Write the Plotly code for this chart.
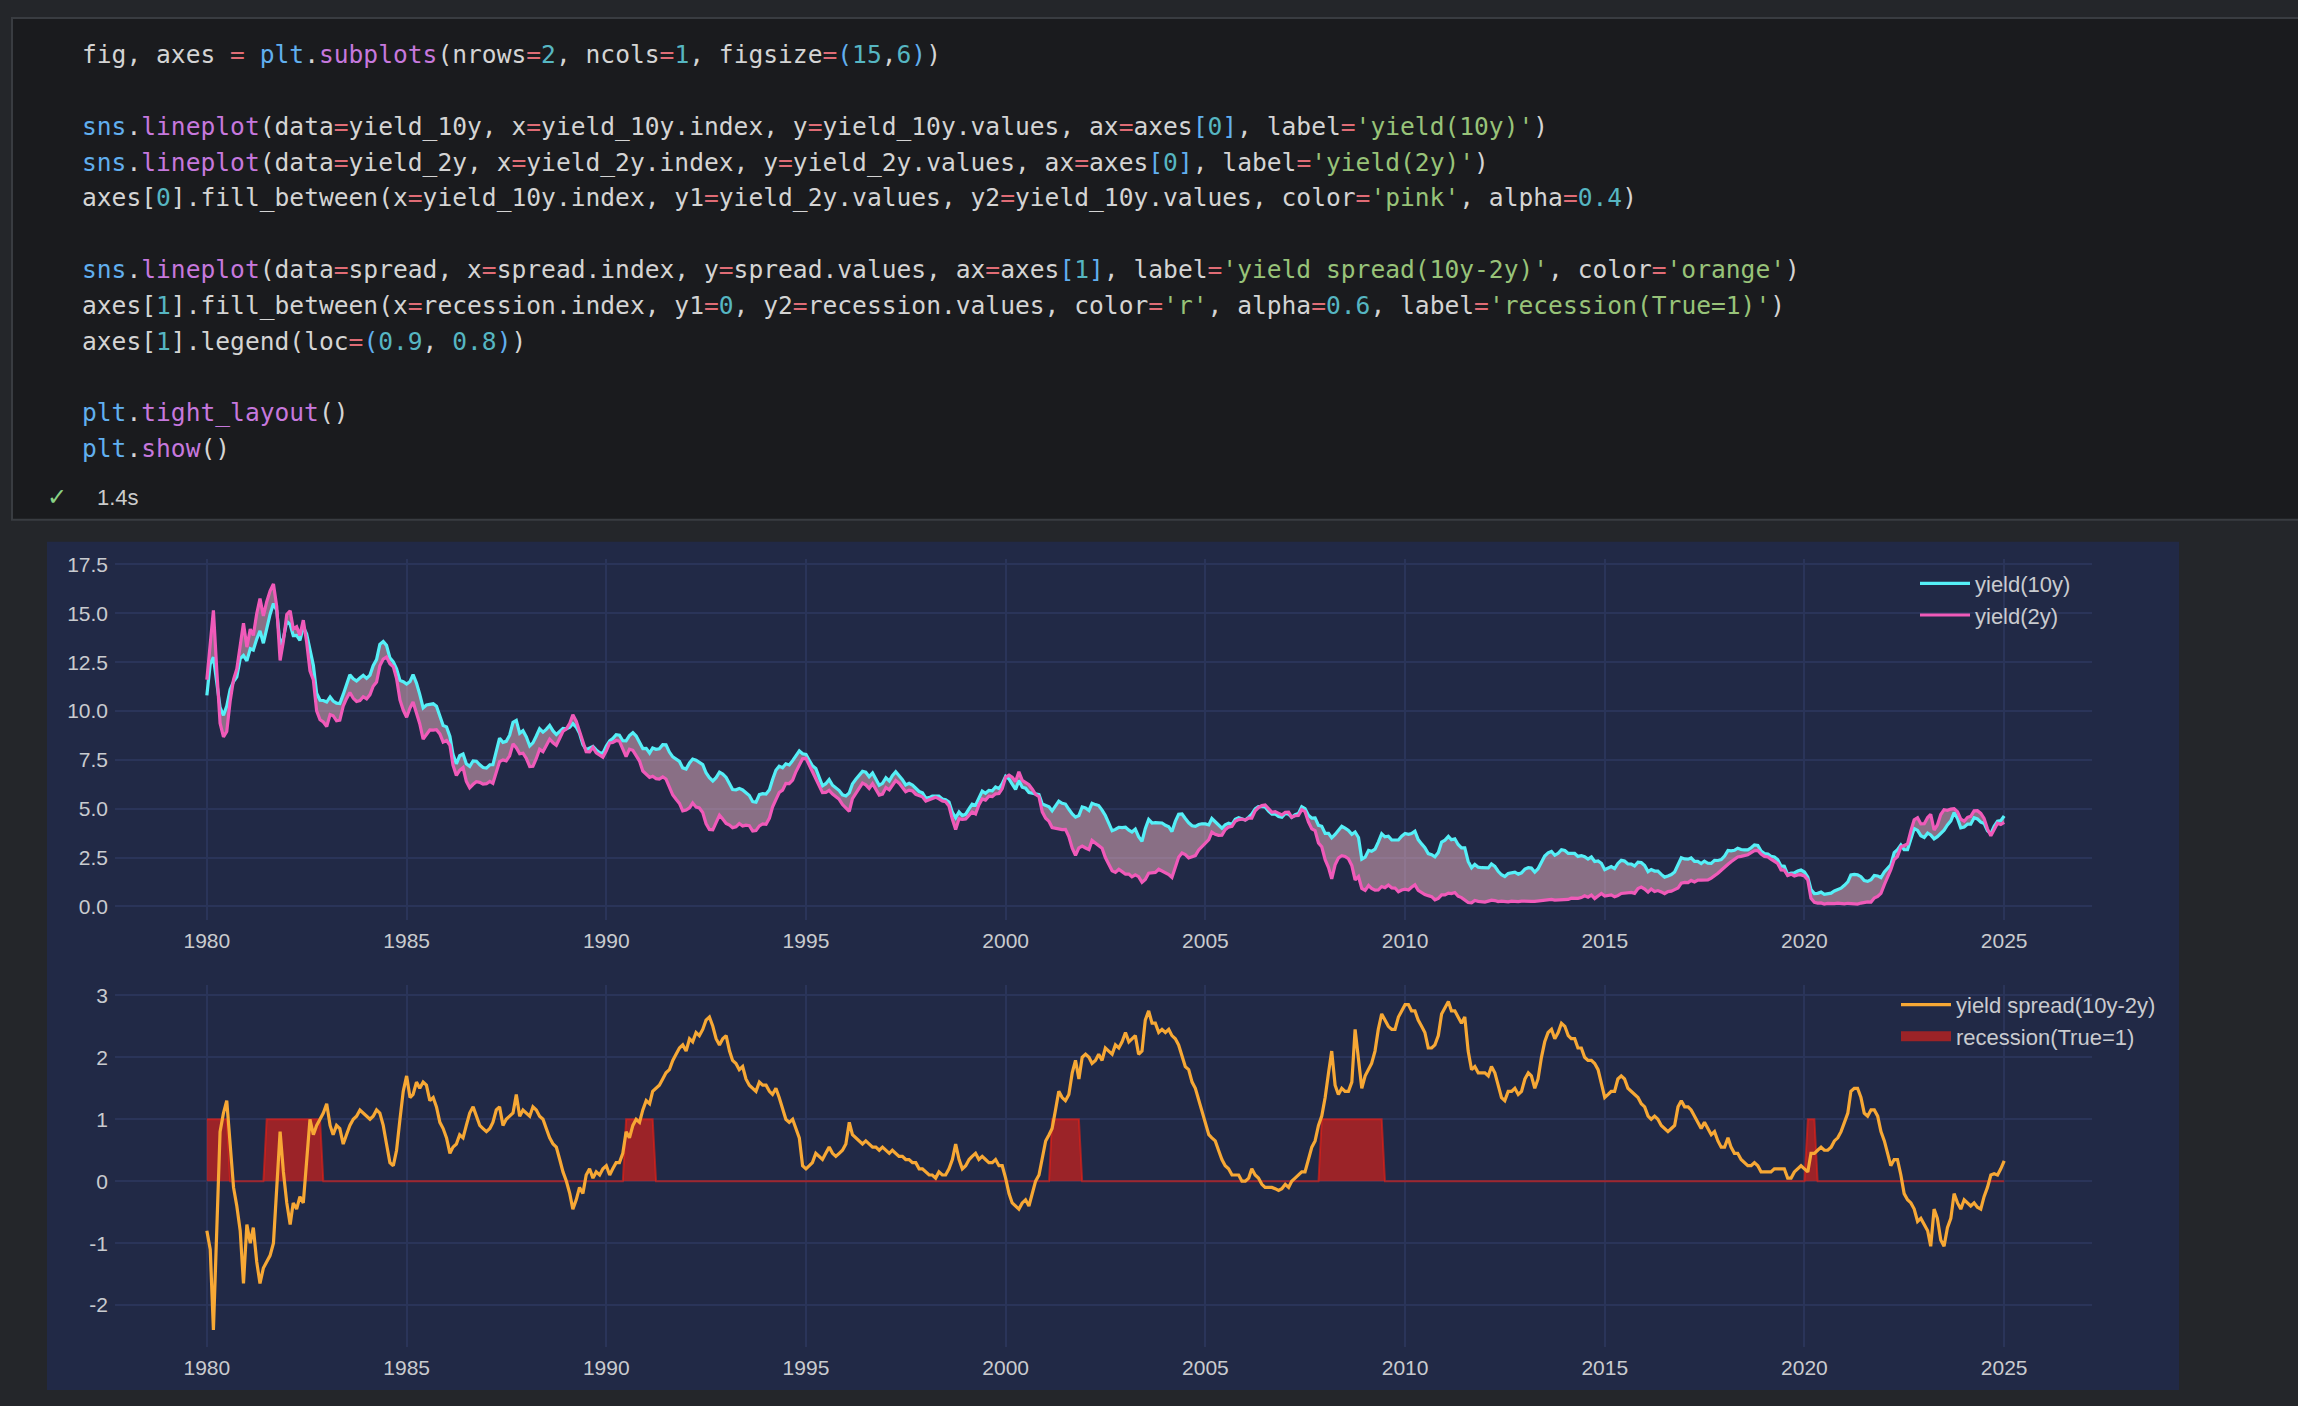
import re
import pandas as pd
import plotly.graph_objects as go

# monthly samples, Jan 1980 .. Jan 2025 (one row per year)
yield_10y = [
    10.80, 12.41, 12.75, 11.47, 10.18, 9.78, 10.25, 11.10, 11.51, 11.75, 12.68, 12.84,
    12.57, 13.19, 13.12, 13.68, 14.10, 13.47, 14.28, 14.94, 15.50, 15.15, 13.39, 13.72,
    14.59, 14.43, 13.86, 13.87, 13.62, 14.30, 13.95, 13.06, 12.34, 10.91, 10.55, 10.54,
    10.46, 10.72, 10.51, 10.40, 10.38, 10.85, 11.38, 11.85, 11.65, 11.54, 11.69, 11.83,
    11.67, 11.84, 12.32, 12.63, 13.41, 13.56, 13.36, 12.72, 12.52, 12.16, 11.57, 11.50,
    11.38, 11.51, 11.86, 11.43, 10.85, 10.16, 10.31, 10.33, 10.37, 10.24, 9.78, 9.26,
    9.19, 8.70, 7.78, 7.30, 7.71, 7.80, 7.30, 7.17, 7.45, 7.43, 7.25, 7.11,
    7.08, 7.25, 7.25, 8.02, 8.61, 8.40, 8.45, 8.76, 9.42, 9.52, 8.86, 8.99,
    8.67, 8.21, 8.37, 8.72, 9.09, 8.92, 9.06, 9.26, 8.98, 8.80, 8.96, 9.11,
    9.09, 9.17, 9.36, 9.18, 8.86, 8.28, 8.02, 8.11, 8.19, 8.01, 7.87, 7.84,
    8.21, 8.47, 8.59, 8.79, 8.76, 8.48, 8.47, 8.75, 8.89, 8.72, 8.39, 8.08,
    8.09, 7.85, 8.11, 8.04, 8.07, 8.28, 8.27, 7.90, 7.65, 7.53, 7.42, 7.09,
    7.03, 7.34, 7.54, 7.48, 7.39, 7.26, 6.84, 6.59, 6.42, 6.59, 6.87, 6.77,
    6.60, 6.26, 5.98, 5.97, 6.04, 5.96, 5.81, 5.68, 5.36, 5.33, 5.72, 5.77,
    5.75, 5.97, 6.48, 6.97, 7.18, 7.10, 7.30, 7.24, 7.46, 7.74, 7.96, 7.81,
    7.78, 7.47, 7.20, 7.06, 6.63, 6.17, 6.28, 6.49, 6.20, 6.04, 5.93, 5.71,
    5.65, 5.81, 6.27, 6.51, 6.74, 6.91, 6.87, 6.64, 6.83, 6.53, 6.20, 6.30,
    6.58, 6.42, 6.69, 6.89, 6.71, 6.49, 6.22, 6.30, 6.21, 6.03, 5.88, 5.81,
    5.54, 5.57, 5.65, 5.64, 5.65, 5.50, 5.46, 5.34, 4.81, 4.53, 4.83, 4.65,
    4.72, 5.00, 5.23, 5.18, 5.54, 5.90, 5.79, 5.94, 5.92, 6.11, 6.03, 6.28,
    6.66, 6.52, 6.26, 5.99, 6.44, 6.10, 6.05, 5.83, 5.80, 5.74, 5.72, 5.24,
    5.16, 5.10, 4.89, 5.14, 5.39, 5.28, 5.24, 4.97, 4.73, 4.57, 4.65, 5.09,
    5.04, 4.91, 5.28, 5.21, 5.16, 4.93, 4.65, 4.26, 3.87, 3.94, 4.05, 4.03,
    4.05, 3.90, 3.81, 3.96, 3.57, 3.33, 3.98, 4.45, 4.27, 4.29, 4.30, 4.27,
    4.15, 4.08, 3.83, 4.35, 4.72, 4.73, 4.50, 4.28, 4.13, 4.10, 4.19, 4.23,
    4.22, 4.17, 4.50, 4.34, 4.14, 4.00, 4.18, 4.26, 4.20, 4.46, 4.54, 4.47,
    4.42, 4.57, 4.72, 4.99, 5.11, 5.11, 5.09, 4.88, 4.72, 4.73, 4.60, 4.56,
    4.76, 4.72, 4.56, 4.69, 4.75, 5.10, 5.00, 4.67, 4.52, 4.53, 4.15, 4.10,
    3.74, 3.74, 3.51, 3.68, 3.88, 4.10, 4.01, 3.89, 3.69, 3.81, 3.53, 2.42,
    2.52, 2.87, 2.82, 2.93, 3.29, 3.72, 3.56, 3.59, 3.40, 3.39, 3.40, 3.59,
    3.73, 3.69, 3.73, 3.85, 3.42, 3.20, 3.01, 2.70, 2.65, 2.54, 2.76, 3.29,
    3.39, 3.58, 3.41, 3.46, 3.17, 3.00, 3.00, 2.30, 1.98, 2.15, 2.01, 1.98,
    1.97, 1.97, 2.17, 2.05, 1.80, 1.62, 1.53, 1.68, 1.72, 1.75, 1.65, 1.72,
    1.91, 1.98, 1.96, 1.76, 1.93, 2.30, 2.58, 2.74, 2.81, 2.62, 2.72, 2.90,
    2.86, 2.71, 2.72, 2.71, 2.56, 2.60, 2.54, 2.42, 2.53, 2.30, 2.33, 2.21,
    1.88, 1.98, 2.04, 1.94, 2.20, 2.36, 2.32, 2.17, 2.17, 2.07, 2.26, 2.24,
    2.09, 1.78, 1.89, 1.81, 1.81, 1.64, 1.50, 1.56, 1.63, 1.76, 2.14, 2.49,
    2.43, 2.42, 2.48, 2.30, 2.30, 2.19, 2.32, 2.21, 2.20, 2.36, 2.35, 2.40,
    2.58, 2.86, 2.84, 2.87, 2.98, 2.91, 2.89, 2.89, 3.00, 3.15, 3.12, 2.83,
    2.71, 2.68, 2.57, 2.53, 2.40, 2.07, 2.06, 1.63, 1.70, 1.71, 1.81, 1.86,
    1.76, 1.50, 0.87, 0.66, 0.67, 0.73, 0.62, 0.65, 0.68, 0.79, 0.87, 0.93,
    1.08, 1.26, 1.61, 1.64, 1.62, 1.52, 1.32, 1.28, 1.37, 1.58, 1.56, 1.47,
    1.76, 1.93, 2.13, 2.75, 2.90, 3.14, 2.90, 2.90, 3.52, 3.98, 3.89, 3.62,
    3.53, 3.75, 3.66, 3.46, 3.57, 3.75, 3.90, 4.17, 4.38, 4.80, 4.50, 4.02,
    4.06, 4.21, 4.21, 4.54, 4.48, 4.31, 4.25, 3.87, 3.72, 4.10, 4.36, 4.39,
    4.63,
]

yield_2y = [
    11.60, 13.51, 15.15, 12.07, 9.38, 8.68, 8.95, 10.50, 11.61, 12.15, 13.48, 14.49,
    13.27, 14.19, 13.87, 14.98, 15.75, 14.87, 15.58, 16.14, 16.50, 15.35, 12.59, 13.57,
    14.94, 15.13, 14.21, 14.32, 13.87, 14.65, 13.55, 12.06, 11.59, 10.01, 9.55, 9.44,
    9.21, 9.82, 9.76, 9.50, 9.53, 10.25, 10.63, 10.95, 10.65, 10.49, 10.54, 10.73,
    10.62, 10.84, 11.27, 11.48, 12.31, 12.66, 12.76, 12.42, 12.27, 11.66, 10.57, 10.05,
    9.68, 10.16, 10.46, 9.83, 9.35, 8.56, 8.76, 9.03, 9.02, 9.04, 8.83, 8.41,
    8.49, 8.25, 7.23, 6.70, 6.96, 7.10, 6.40, 6.07, 6.25, 6.38, 6.35, 6.26,
    6.28, 6.40, 6.30, 6.87, 7.41, 7.50, 7.45, 7.71, 8.32, 8.12, 7.81, 7.84,
    7.57, 7.16, 7.17, 7.57, 8.04, 7.92, 8.21, 8.56, 8.38, 8.25, 8.61, 8.96,
    9.09, 9.37, 9.81, 9.48, 8.96, 8.48, 7.92, 7.91, 8.14, 7.86, 7.77, 7.64,
    7.96, 8.37, 8.39, 8.49, 8.46, 8.03, 7.67, 8.05, 7.99, 7.72, 7.44, 6.93,
    6.79, 6.60, 6.66, 6.54, 6.52, 6.63, 6.52, 6.10, 5.70, 5.48, 5.27, 4.89,
    4.93, 5.04, 5.29, 5.08, 5.04, 4.81, 4.24, 3.94, 3.92, 4.29, 4.67, 4.47,
    4.25, 4.16, 4.03, 4.07, 4.24, 4.11, 4.16, 4.13, 3.86, 3.88, 4.12, 4.22,
    4.20, 4.52, 5.08, 5.47, 5.83, 5.95, 6.30, 6.29, 6.46, 6.89, 7.26, 7.56,
    7.58, 7.22, 6.90, 6.61, 6.23, 5.82, 5.83, 5.94, 5.75, 5.64, 5.48, 5.21,
    5.05, 4.86, 5.52, 5.81, 6.09, 6.31, 6.22, 6.04, 6.28, 5.98, 5.70, 5.75,
    6.08, 5.97, 6.19, 6.44, 6.31, 6.09, 5.87, 5.95, 5.91, 5.73, 5.68, 5.61,
    5.39, 5.47, 5.55, 5.59, 5.50, 5.40, 5.36, 5.14, 4.46, 3.93, 4.48, 4.45,
    4.47, 4.65, 4.83, 4.73, 5.19, 5.50, 5.44, 5.64, 5.62, 5.76, 5.78, 6.03,
    6.61, 6.72, 6.61, 6.39, 6.89, 6.45, 6.35, 6.23, 6.00, 5.74, 5.62, 4.84,
    4.51, 4.35, 4.04, 3.99, 3.94, 3.93, 3.94, 3.57, 2.98, 2.62, 3.00, 3.09,
    2.99, 2.91, 3.38, 3.26, 3.11, 2.98, 2.50, 2.16, 1.82, 1.74, 1.90, 1.78,
    1.65, 1.65, 1.51, 1.61, 1.52, 1.23, 1.38, 1.70, 1.72, 1.74, 1.90, 1.82,
    1.75, 1.63, 1.48, 2.05, 2.52, 2.73, 2.65, 2.48, 2.53, 2.60, 2.89, 3.08,
    3.27, 3.42, 3.80, 3.69, 3.64, 3.65, 3.93, 4.06, 4.10, 4.36, 4.44, 4.47,
    4.42, 4.52, 4.52, 4.89, 5.06, 5.16, 5.19, 4.98, 4.82, 4.85, 4.75, 4.68,
    4.81, 4.82, 4.56, 4.64, 4.65, 4.95, 4.85, 4.32, 3.97, 3.88, 3.25, 3.05,
    2.39, 1.99, 1.41, 2.13, 2.48, 2.60, 2.56, 2.44, 2.09, 1.36, 1.53, 0.92,
    0.82, 1.07, 0.92, 0.83, 0.84, 1.02, 0.96, 1.09, 0.95, 0.94, 0.75, 0.84,
    0.88, 0.84, 0.98, 1.10, 0.82, 0.70, 0.61, 0.55, 0.50, 0.34, 0.41, 0.59,
    0.59, 0.68, 0.66, 0.71, 0.52, 0.45, 0.35, 0.20, 0.18, 0.30, 0.26, 0.23,
    0.22, 0.27, 0.32, 0.30, 0.25, 0.27, 0.23, 0.23, 0.27, 0.25, 0.25, 0.27,
    0.26, 0.23, 0.26, 0.26, 0.28, 0.30, 0.33, 0.34, 0.36, 0.32, 0.32, 0.35,
    0.36, 0.36, 0.42, 0.41, 0.41, 0.45, 0.54, 0.47, 0.58, 0.40, 0.53, 0.66,
    0.53, 0.58, 0.59, 0.49, 0.55, 0.66, 0.67, 0.67, 0.72, 0.67, 0.91, 0.99,
    0.89, 0.73, 0.89, 0.76, 0.81, 0.74, 0.65, 0.76, 0.78, 0.86, 0.94, 1.19,
    1.23, 1.22, 1.33, 1.25, 1.35, 1.34, 1.37, 1.36, 1.45, 1.56, 1.70, 1.85,
    2.03, 2.16, 2.29, 2.42, 2.53, 2.56, 2.59, 2.64, 2.75, 2.85, 2.87, 2.68,
    2.56, 2.53, 2.42, 2.33, 2.20, 1.87, 1.86, 1.58, 1.65, 1.56, 1.61, 1.61,
    1.56, 1.35, 0.42, 0.21, 0.17, 0.18, 0.12, 0.15, 0.13, 0.14, 0.17, 0.13,
    0.13, 0.16, 0.16, 0.14, 0.12, 0.17, 0.22, 0.23, 0.22, 0.43, 0.51, 0.67,
    1.11, 1.48, 1.88, 2.40, 2.55, 3.04, 3.10, 3.20, 3.87, 4.43, 4.54, 4.22,
    4.23, 4.55, 4.71, 3.91, 4.17, 4.70, 4.95, 4.92, 4.98, 5.00, 4.85, 4.47,
    4.36, 4.56, 4.61, 4.89, 4.90, 4.76, 4.50, 3.97, 3.62, 3.98, 4.26, 4.19,
    4.30,
]

spread = [
    -0.80, -1.10, -2.40, -0.60, 0.80, 1.10, 1.30, 0.60, -0.10, -0.40, -0.80, -1.65,
    -0.70, -1.00, -0.75, -1.30, -1.65, -1.40, -1.30, -1.20, -1.00, -0.20, 0.80, 0.15,
    -0.35, -0.70, -0.35, -0.45, -0.25, -0.35, 0.40, 1.00, 0.75, 0.90, 1.00, 1.10,
    1.25, 0.90, 0.75, 0.90, 0.85, 0.60, 0.75, 0.90, 1.00, 1.05, 1.15, 1.10,
    1.05, 1.00, 1.05, 1.15, 1.10, 0.90, 0.60, 0.30, 0.25, 0.50, 1.00, 1.45,
    1.70, 1.35, 1.40, 1.60, 1.50, 1.60, 1.55, 1.30, 1.35, 1.20, 0.95, 0.85,
    0.70, 0.45, 0.55, 0.60, 0.75, 0.70, 0.90, 1.10, 1.20, 1.05, 0.90, 0.85,
    0.80, 0.85, 0.95, 1.15, 1.20, 0.90, 1.00, 1.05, 1.10, 1.40, 1.05, 1.15,
    1.10, 1.05, 1.20, 1.15, 1.05, 1.00, 0.85, 0.70, 0.60, 0.55, 0.35, 0.15,
    0.00, -0.20, -0.45, -0.30, -0.10, -0.20, 0.10, 0.20, 0.05, 0.15, 0.10, 0.20,
    0.25, 0.10, 0.20, 0.30, 0.30, 0.45, 0.80, 0.70, 0.90, 1.00, 0.95, 1.15,
    1.30, 1.25, 1.45, 1.50, 1.55, 1.65, 1.75, 1.80, 1.95, 2.05, 2.15, 2.20,
    2.10, 2.30, 2.25, 2.40, 2.35, 2.45, 2.60, 2.65, 2.50, 2.30, 2.20, 2.30,
    2.35, 2.10, 1.95, 1.90, 1.80, 1.85, 1.65, 1.55, 1.50, 1.45, 1.60, 1.55,
    1.55, 1.45, 1.40, 1.50, 1.35, 1.15, 1.00, 0.95, 1.00, 0.85, 0.70, 0.25,
    0.20, 0.25, 0.30, 0.45, 0.40, 0.35, 0.45, 0.55, 0.45, 0.40, 0.45, 0.50,
    0.60, 0.95, 0.75, 0.70, 0.65, 0.60, 0.65, 0.60, 0.55, 0.55, 0.50, 0.55,
    0.50, 0.45, 0.50, 0.45, 0.40, 0.40, 0.35, 0.35, 0.30, 0.30, 0.20, 0.20,
    0.15, 0.10, 0.10, 0.05, 0.15, 0.10, 0.10, 0.20, 0.35, 0.60, 0.35, 0.20,
    0.25, 0.35, 0.40, 0.45, 0.35, 0.40, 0.35, 0.30, 0.30, 0.35, 0.25, 0.25,
    0.05, -0.20, -0.35, -0.40, -0.45, -0.35, -0.30, -0.40, -0.20, 0.00, 0.10, 0.40,
    0.65, 0.75, 0.85, 1.15, 1.45, 1.35, 1.30, 1.40, 1.75, 1.95, 1.65, 2.00,
    2.05, 2.00, 1.90, 1.95, 2.05, 1.95, 2.15, 2.10, 2.05, 2.20, 2.15, 2.25,
    2.40, 2.25, 2.30, 2.35, 2.05, 2.10, 2.60, 2.75, 2.55, 2.55, 2.40, 2.45,
    2.40, 2.45, 2.35, 2.30, 2.20, 2.00, 1.85, 1.80, 1.60, 1.50, 1.30, 1.15,
    0.95, 0.75, 0.70, 0.65, 0.50, 0.35, 0.25, 0.20, 0.10, 0.10, 0.10, 0.00,
    0.00, 0.05, 0.20, 0.10, 0.05, -0.05, -0.10, -0.10, -0.10, -0.12, -0.15, -0.12,
    -0.05, -0.10, 0.00, 0.05, 0.10, 0.15, 0.15, 0.35, 0.55, 0.65, 0.90, 1.05,
    1.35, 1.75, 2.10, 1.55, 1.40, 1.50, 1.45, 1.45, 1.60, 2.45, 2.00, 1.50,
    1.70, 1.80, 1.90, 2.10, 2.45, 2.70, 2.60, 2.50, 2.45, 2.45, 2.65, 2.75,
    2.85, 2.85, 2.75, 2.75, 2.60, 2.50, 2.40, 2.15, 2.15, 2.20, 2.35, 2.70,
    2.80, 2.90, 2.75, 2.75, 2.65, 2.55, 2.65, 2.10, 1.80, 1.85, 1.75, 1.75,
    1.75, 1.70, 1.85, 1.75, 1.55, 1.35, 1.30, 1.45, 1.45, 1.50, 1.40, 1.45,
    1.65, 1.75, 1.70, 1.50, 1.65, 2.00, 2.25, 2.40, 2.45, 2.30, 2.40, 2.55,
    2.50, 2.35, 2.30, 2.30, 2.15, 2.15, 2.00, 1.95, 1.95, 1.90, 1.80, 1.55,
    1.35, 1.40, 1.45, 1.45, 1.65, 1.70, 1.65, 1.50, 1.45, 1.40, 1.35, 1.25,
    1.20, 1.05, 1.00, 1.05, 1.00, 0.90, 0.85, 0.80, 0.85, 0.90, 1.20, 1.30,
    1.20, 1.20, 1.15, 1.05, 0.95, 0.85, 0.95, 0.85, 0.75, 0.80, 0.65, 0.55,
    0.55, 0.70, 0.55, 0.45, 0.45, 0.35, 0.30, 0.25, 0.25, 0.30, 0.25, 0.15,
    0.15, 0.15, 0.15, 0.20, 0.20, 0.20, 0.20, 0.05, 0.05, 0.15, 0.20, 0.25,
    0.20, 0.15, 0.45, 0.45, 0.50, 0.55, 0.50, 0.50, 0.55, 0.65, 0.70, 0.80,
    0.95, 1.10, 1.45, 1.50, 1.50, 1.35, 1.10, 1.05, 1.15, 1.15, 1.05, 0.80,
    0.65, 0.45, 0.25, 0.35, 0.35, 0.10, -0.20, -0.30, -0.35, -0.45, -0.65, -0.60,
    -0.70, -0.80, -1.05, -0.45, -0.60, -0.95, -1.05, -0.75, -0.60, -0.20, -0.35, -0.45,
    -0.30, -0.35, -0.40, -0.35, -0.42, -0.45, -0.25, -0.10, 0.10, 0.12, 0.10, 0.20,
    0.33,
]

# recession months (True=1), first and last month of each episode
recession_start = ["1980-01", "1981-07", "1990-07", "2001-03", "2007-12", "2020-02"]
recession_end = ["1980-07", "1982-11", "1991-03", "2001-11", "2009-06", "2020-04"]

spread_ticks = [-2, -1, 0, 1, 2, 3]
spread_ticktext = ["-2", "-1", "0", "1", "2", "3"]

months = pd.date_range("1980-01-01", "2025-01-01", freq="MS")
month_keys = months.strftime("%Y-%m")
recession = [int(any(s <= m <= e for s, e in zip(recession_start, recession_end)))
             for m in month_keys]

code_lines = [
    "fig, axes = plt.subplots(nrows=2, ncols=1, figsize=(15,6))",
    "",
    "sns.lineplot(data=yield_10y, x=yield_10y.index, y=yield_10y.values, ax=axes[0], label='yield(10y)')",
    "sns.lineplot(data=yield_2y, x=yield_2y.index, y=yield_2y.values, ax=axes[0], label='yield(2y)')",
    "axes[0].fill_between(x=yield_10y.index, y1=yield_2y.values, y2=yield_10y.values, color='pink', alpha=0.4)",
    "",
    "sns.lineplot(data=spread, x=spread.index, y=spread.values, ax=axes[1], label='yield spread(10y-2y)', color='orange')",
    "axes[1].fill_between(x=recession.index, y1=0, y2=recession.values, color='r', alpha=0.6, label='recession(True=1)')",
    "axes[1].legend(loc=(0.9, 0.8))",
    "",
    "plt.tight_layout()",
    "plt.show()",
]

# colours
OUTER = "#24262a"
CELL = "#1a1b1e"
CELL_EDGE = "#393c41"
NAVY = "#212946"
GRID = "#2a3459"
TXT = "#c9cbcf"
CYAN = "#55eff7"
PINK = "#f05ab9"
ORANGE = "#f7a835"
RED = "rgba(236,31,20,0.6)"

C_TXT, C_STR, C_NUM, C_OP = "#d4d4d4", "#98c379", "#56b6c2", "#e06c75"
C_MOD, C_FUNC = "#61afef", "#c678dd"
C_BR = ["#d4d4d4", "#61afef"]


def highlight(line):
    toks = re.findall(r"'[^']*'|\d+(?:\.\d+)?|[A-Za-z_]\w*|\s+|.", line)
    out, depth = [], 0
    for i, t in enumerate(toks):
        if t.startswith("'"):
            col = C_STR
        elif t[0].isdigit():
            col = C_NUM
        elif t in ("sns", "plt"):
            col = C_MOD
        elif t[0].isalpha() or t[0] == "_":
            is_call = i >= 2 and toks[i - 1] == "." and toks[i - 2] in ("sns", "plt")
            col = C_FUNC if is_call else C_TXT
        elif t == "=":
            col = C_OP
        elif t in "([":
            col = C_BR[depth % 2]
            depth += 1
        elif t in ")]":
            depth -= 1
            col = C_BR[depth % 2]
        else:
            col = C_TXT
        out.append('<span style="color:%s">%s</span>' % (col, t.replace(" ", "\u00a0")))
    return "".join(out)


W, H = 2298, 1406


def px(x):
    return x / W


def py(y):
    return 1 - y / H


fig = go.Figure()

# top panel: fill between the two yields, then the lines
fig.add_trace(go.Scatter(x=months, y=yield_2y, mode="lines", line=dict(width=0),
                         showlegend=False, hoverinfo="skip", xaxis="x", yaxis="y"))
fig.add_trace(go.Scatter(x=months, y=yield_10y, mode="lines", line=dict(width=0),
                         fill="tonexty", fillcolor="rgba(255,192,203,0.47)",
                         showlegend=False, hoverinfo="skip", xaxis="x", yaxis="y"))
fig.add_trace(go.Scatter(x=months, y=yield_10y, mode="lines", name="yield(10y)",
                         line=dict(color=CYAN, width=3.2), xaxis="x", yaxis="y",
                         legend="legend", legendgroup="a"))
fig.add_trace(go.Scatter(x=months, y=yield_2y, mode="lines", name="yield(2y)",
                         line=dict(color=PINK, width=3.2), xaxis="x", yaxis="y",
                         legend="legend", legendgroup="b"))

# bottom panel: recession band, then the spread
fig.add_trace(go.Scatter(x=months, y=recession, mode="lines", line=dict(color=RED, width=2),
                         fill="tozeroy", fillcolor=RED, showlegend=False, hoverinfo="skip",
                         xaxis="x2", yaxis="y2"))
fig.add_trace(go.Scatter(x=months, y=spread, mode="lines", name="yield spread(10y-2y)",
                         line=dict(color=ORANGE, width=3.2), xaxis="x2", yaxis="y2",
                         legend="legend2", legendrank=1, legendgroup="c"))
# legend handle for the recession band (a wide patch, like matplotlib)
fig.add_trace(go.Scatter(x=[None], y=[None], mode="lines", name="recession(True=1)",
                         line=dict(color="#9c2327", width=15), xaxis="x2", yaxis="y2",
                         legend="legend2", legendrank=2, legendgroup="d"))

tick_font = dict(family="Liberation Sans, Arial, sans-serif", size=21, color=TXT)
x_common = dict(type="date", range=["1977-09-13", "2027-03-15"], tick0="1980-01-01",
                dtick="M60", tickformat="%Y", showgrid=True, gridcolor=GRID, gridwidth=1.5,
                zeroline=False, showline=False, ticks="", tickfont=tick_font,
                ticklabelstandoff=6, domain=[px(115), px(2092)])
y_common = dict(showgrid=True, gridcolor=GRID, gridwidth=1.5, zeroline=False,
                showline=False, ticks="", tickfont=tick_font, ticklabelstandoff=6)

legend_common = dict(xanchor="left", yanchor="top", bgcolor="rgba(0,0,0,0)",
                     borderwidth=0, font=dict(family="Liberation Sans, Arial, sans-serif",
                                              size=22, color=TXT),
                     tracegroupgap=0, itemclick=False, itemwidth=50)

fig.update_layout(
    width=W, height=H,
    margin=dict(l=0, r=0, t=0, b=0),
    paper_bgcolor=OUTER,
    plot_bgcolor=NAVY,
    xaxis=dict(anchor="y", **x_common),
    yaxis=dict(anchor="x", domain=[py(918), py(555)], range=[-0.70, 17.8],
               tick0=0, dtick=2.5, tickformat=".1f", **y_common),
    xaxis2=dict(anchor="y2", **x_common),
    yaxis2=dict(anchor="x2", domain=[py(1347), py(983)], range=[-2.68, 3.17],
                tickvals=spread_ticks, ticktext=spread_ticktext, **y_common),
    legend=dict(x=px(1915), y=py(559), **legend_common),
    legend2=dict(x=px(1896), y=py(982), **legend_common),
    shapes=[
        # notebook code cell
        dict(type="rect", xref="paper", yref="paper", x0=px(12), x1=1.02,
             y0=py(516), y1=py(12), fillcolor=CELL, line=dict(color=CELL_EDGE, width=2),
             layer="below"),
        # output area of the chart
        dict(type="rect", xref="paper", yref="paper", x0=px(47), x1=px(2179),
             y0=py(1390), y1=py(538), fillcolor=NAVY, line=dict(width=0), layer="below"),
    ],
)

annotations = []
for k, line in enumerate(code_lines):
    if not line:
        continue
    annotations.append(dict(
        x=px(80), y=py(48.7 + 36 * k), xref="paper", yref="paper",
        xanchor="left", yanchor="middle", showarrow=False, align="left",
        text=highlight(line),
        font=dict(family="DejaVu Sans Mono, monospace", size=24.6, color=C_TXT),
    ))
annotations.append(dict(x=px(57), y=py(493.6), xref="paper", yref="paper",
                        xanchor="center", yanchor="middle", showarrow=False, text="\u2713",
                        font=dict(family="DejaVu Sans", size=24, color="#89d185")))
annotations.append(dict(x=px(95), y=py(493.6), xref="paper", yref="paper",
                        xanchor="left", yanchor="middle", showarrow=False, text="1.4s",
                        font=dict(family="Liberation Sans, Arial, sans-serif", size=22,
                                  color="#cccccc")))
fig.update_layout(annotations=annotations)

# page margin off so the figure sits at the window's top-left corner
fig.write_html("out.html", config={"displayModeBar": False},
               post_script="document.body.style.margin='0';"
                           "document.body.style.background='%s';" % OUTER)
